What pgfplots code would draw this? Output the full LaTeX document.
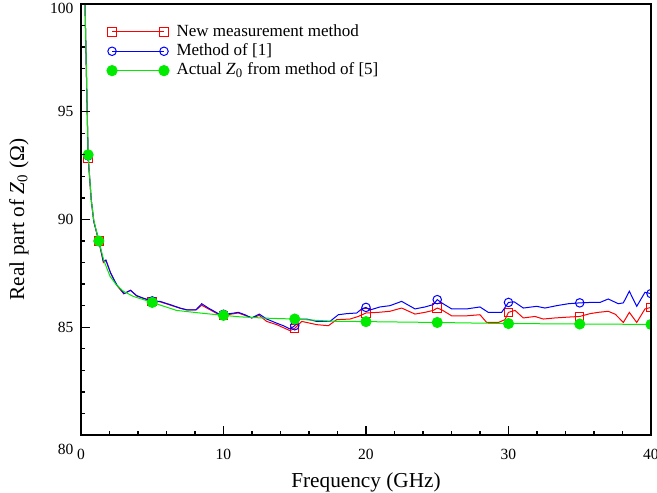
\documentclass[border=0pt]{standalone}
\usepackage{fontspec}
\setmainfont{Liberation Serif}
\usepackage{pgfplots}
\pgfplotsset{compat=1.18}
\definecolor{zred}{RGB}{255,0,0}
\definecolor{zblue}{RGB}{0,0,255}
\definecolor{zgreen}{RGB}{0,235,0}

\begin{document}
\begin{tikzpicture}
\begin{axis}[
    scale only axis, width=267.9pt, height=202.6pt,
    xmin=0, xmax=40, ymin=80, ymax=100,
    xtick={0,10,...,40}, ytick={80,85,...,100},
    yticklabels={\raisebox{-7pt}[\height][\depth]{80},85,90,95,\raisebox{-2.3pt}[\height][\depth]{100}},
    minor x tick num=4, minor y tick num=4,
    xtick pos=bottom, ytick pos=left,
    xtick align=inside, ytick align=inside,
    major tick length=4pt, minor tick length=2pt,
    axis line style={line width=0.9pt},
    every tick/.append style={black, line width=0.6pt},
    tick label style={font=\fontsize{7.3}{8.5}\selectfont},
    /pgf/number format/assume math mode=true,
    xticklabel style={yshift=-3pt},
    xlabel={Frequency (GHz)},
    ylabel={Real part of \textit{Z}\textsubscript{0} (Ω)},
    label style={font=\fontsize{10}{12}\selectfont},
    xlabel style={at={(axis description cs:0.5,-0.11)}, anchor=center},
    ylabel style={at={(axis description cs:-0.109,0.5)}, anchor=center},
    clip marker paths=true,
    axis on top,
    legend image code/.code={\draw[#1] plot coordinates {(0pt,0pt) (24.4pt,0pt)};},
    legend cell align=left,
    legend style={draw=none, fill=none, inner sep=0pt,
        at={(axis description cs:0,1)}, anchor=north west, xshift=12pt, yshift=-8.4pt,
        font=\fontsize{8}{9}\selectfont,
        nodes={inner sep=0pt, text height=6.5pt, text depth=2.6pt},
        /tikz/every odd column/.append style={column sep=3.5pt}},
]
% new measurement method
\addplot[zred, line width=0.47pt, forget plot] coordinates {
(0.25,101) (0.5,92.85) (0.72,90.9) (0.9,89.9) (1.25,89.0) (1.57,88.0) (1.75,88.1)
(2.08,87.5) (2.5,86.95) (3.0,86.55) (3.48,86.72) (3.9,86.45) (4.4,86.33) (5,86.2)
(5.55,86.18) (6.25,86.03) (6.95,85.88) (7.42,85.8) (8.07,85.8) (8.47,86.02) (8.94,85.85)
(9.64,85.6) (10,85.55) (10.46,85.6) (11.04,85.66) (11.5,85.55) (11.98,85.43) (12.51,85.55)
(13.03,85.27) (13.73,85.12) (14.67,84.84) (15,84.95) (15.49,85.27) (15.84,85.22) (16.54,85.12)
(17.36,85.07) (17.94,85.35) (18.88,85.38) (19.46,85.5) (20,85.66) (20.86,85.69) (21.68,85.74)
(22.5,85.89) (23.44,85.61) (24.14,85.69) (24.72,85.78) (25,85.89) (25.31,85.81) (26.01,85.53)
(27.07,85.53) (28.0,85.58) (28.47,85.22) (29.29,85.22) (29.75,85.35) (30,85.69) (30.46,85.78)
(31.04,85.43) (31.86,85.5) (32.44,85.38) (33.26,85.43) (34.2,85.47) (35,85.5) (35.72,85.63)
(36.3,85.69) (37.0,85.74) (37.5,85.6) (38.06,85.22) (38.48,85.69) (39.0,85.22) (39.58,85.85)
(40,85.92)
};
\addplot[zred, only marks, mark=square, mark size=2pt, line width=0.47pt, forget plot] coordinates {
(0.5,92.85) (1.25,89.0) (5,86.2) (10,85.55) (15,84.95) (20,85.66) (25,85.89) (30,85.69) (35,85.5) (40,85.92)
};
% method of [1]
\addplot[zblue, line width=0.47pt, forget plot] coordinates {
(0.25,101) (0.5,92.95) (0.72,90.9) (0.9,89.9) (1.25,89.0) (1.57,88.06) (1.75,88.12)
(2.08,87.52) (2.5,86.98) (3.02,86.56) (3.48,86.71) (3.9,86.47) (4.37,86.35) (5,86.22)
(5.54,86.2) (6.25,86.05) (6.95,85.89) (7.42,85.81) (8.07,85.81) (8.47,86.09) (8.94,85.89)
(9.64,85.63) (10,85.6) (10.46,85.63) (11.04,85.69) (11.5,85.58) (11.98,85.43) (12.51,85.61)
(13.03,85.38) (13.73,85.19) (14.2,85.07) (14.67,84.92) (15,85.07) (15.37,85.38) (15.84,85.38)
(16.54,85.27) (17.47,85.27) (18.06,85.58) (18.65,85.63) (19.35,85.66) (19.7,85.85) (20,85.92)
(20.28,85.8) (20.98,85.94) (21.68,86.0) (22.5,86.2) (23.44,85.85) (24.14,85.94) (24.72,86.05)
(25,86.28) (25.31,86.13) (26.01,85.85) (27.07,85.85) (28.0,85.94) (28.58,85.69) (29.52,85.69)
(30,86.15) (30.4,86.18) (31.04,85.89) (31.98,85.97) (32.56,85.89) (33.38,86.0) (34.2,86.09)
(35,86.13) (35.72,86.15) (36.42,86.15) (37.0,86.31) (37.71,86.09) (38.06,86.13) (38.48,86.67)
(39.0,85.97) (39.58,86.62) (40,86.56)
};
\addplot[zblue, only marks, mark=o, mark size=2pt, line width=0.47pt, forget plot] coordinates {
(0.5,92.95) (1.25,89.0) (5,86.22) (10,85.6) (15,85.07) (20,85.92) (25,86.28) (30,86.15) (35,86.13) (40,86.56)
};
% actual Z0 from method of [5]
\addplot[zgreen, line width=0.47pt, forget plot] coordinates {
(0.25,101) (0.5,93.0) (0.72,90.9) (0.9,89.95) (1.25,89.0) (1.6,88.1) (2.04,87.36) (2.5,86.95)
(2.97,86.67) (3.67,86.43) (5,86.15) (6.7,85.78) (8.35,85.66) (10,85.55) (11.2,85.48) (13,85.42)
(15,85.38) (17.5,85.28) (20,85.26) (25,85.22) (30,85.17) (35,85.15) (40,85.13)
};
\addplot[zgreen, only marks, mark=*, mark size=2.4pt, forget plot] coordinates {
(0.5,93.0) (1.25,89.0) (5,86.15) (10,85.55) (15,85.38) (20,85.26) (25,85.22) (30,85.17) (35,85.15) (40,85.13)
};
\addlegendimage{zred, line width=0.47pt, mark=square, mark size=2pt}
\addlegendentry{New measurement method}
\addlegendimage{zblue, line width=0.47pt, mark=o, mark size=2pt}
\addlegendentry{Method of [1]}
\addlegendimage{zgreen, line width=0.47pt, mark=*, mark size=2.4pt}
\addlegendentry{Actual \textit{Z}\textsubscript{0} from method of [5]}
\end{axis}
\pgfresetboundingbox
\path[use as bounding box] (-38.07pt,-27.26pt) rectangle (270.72pt,204.45pt);
\end{tikzpicture}
\end{document}
